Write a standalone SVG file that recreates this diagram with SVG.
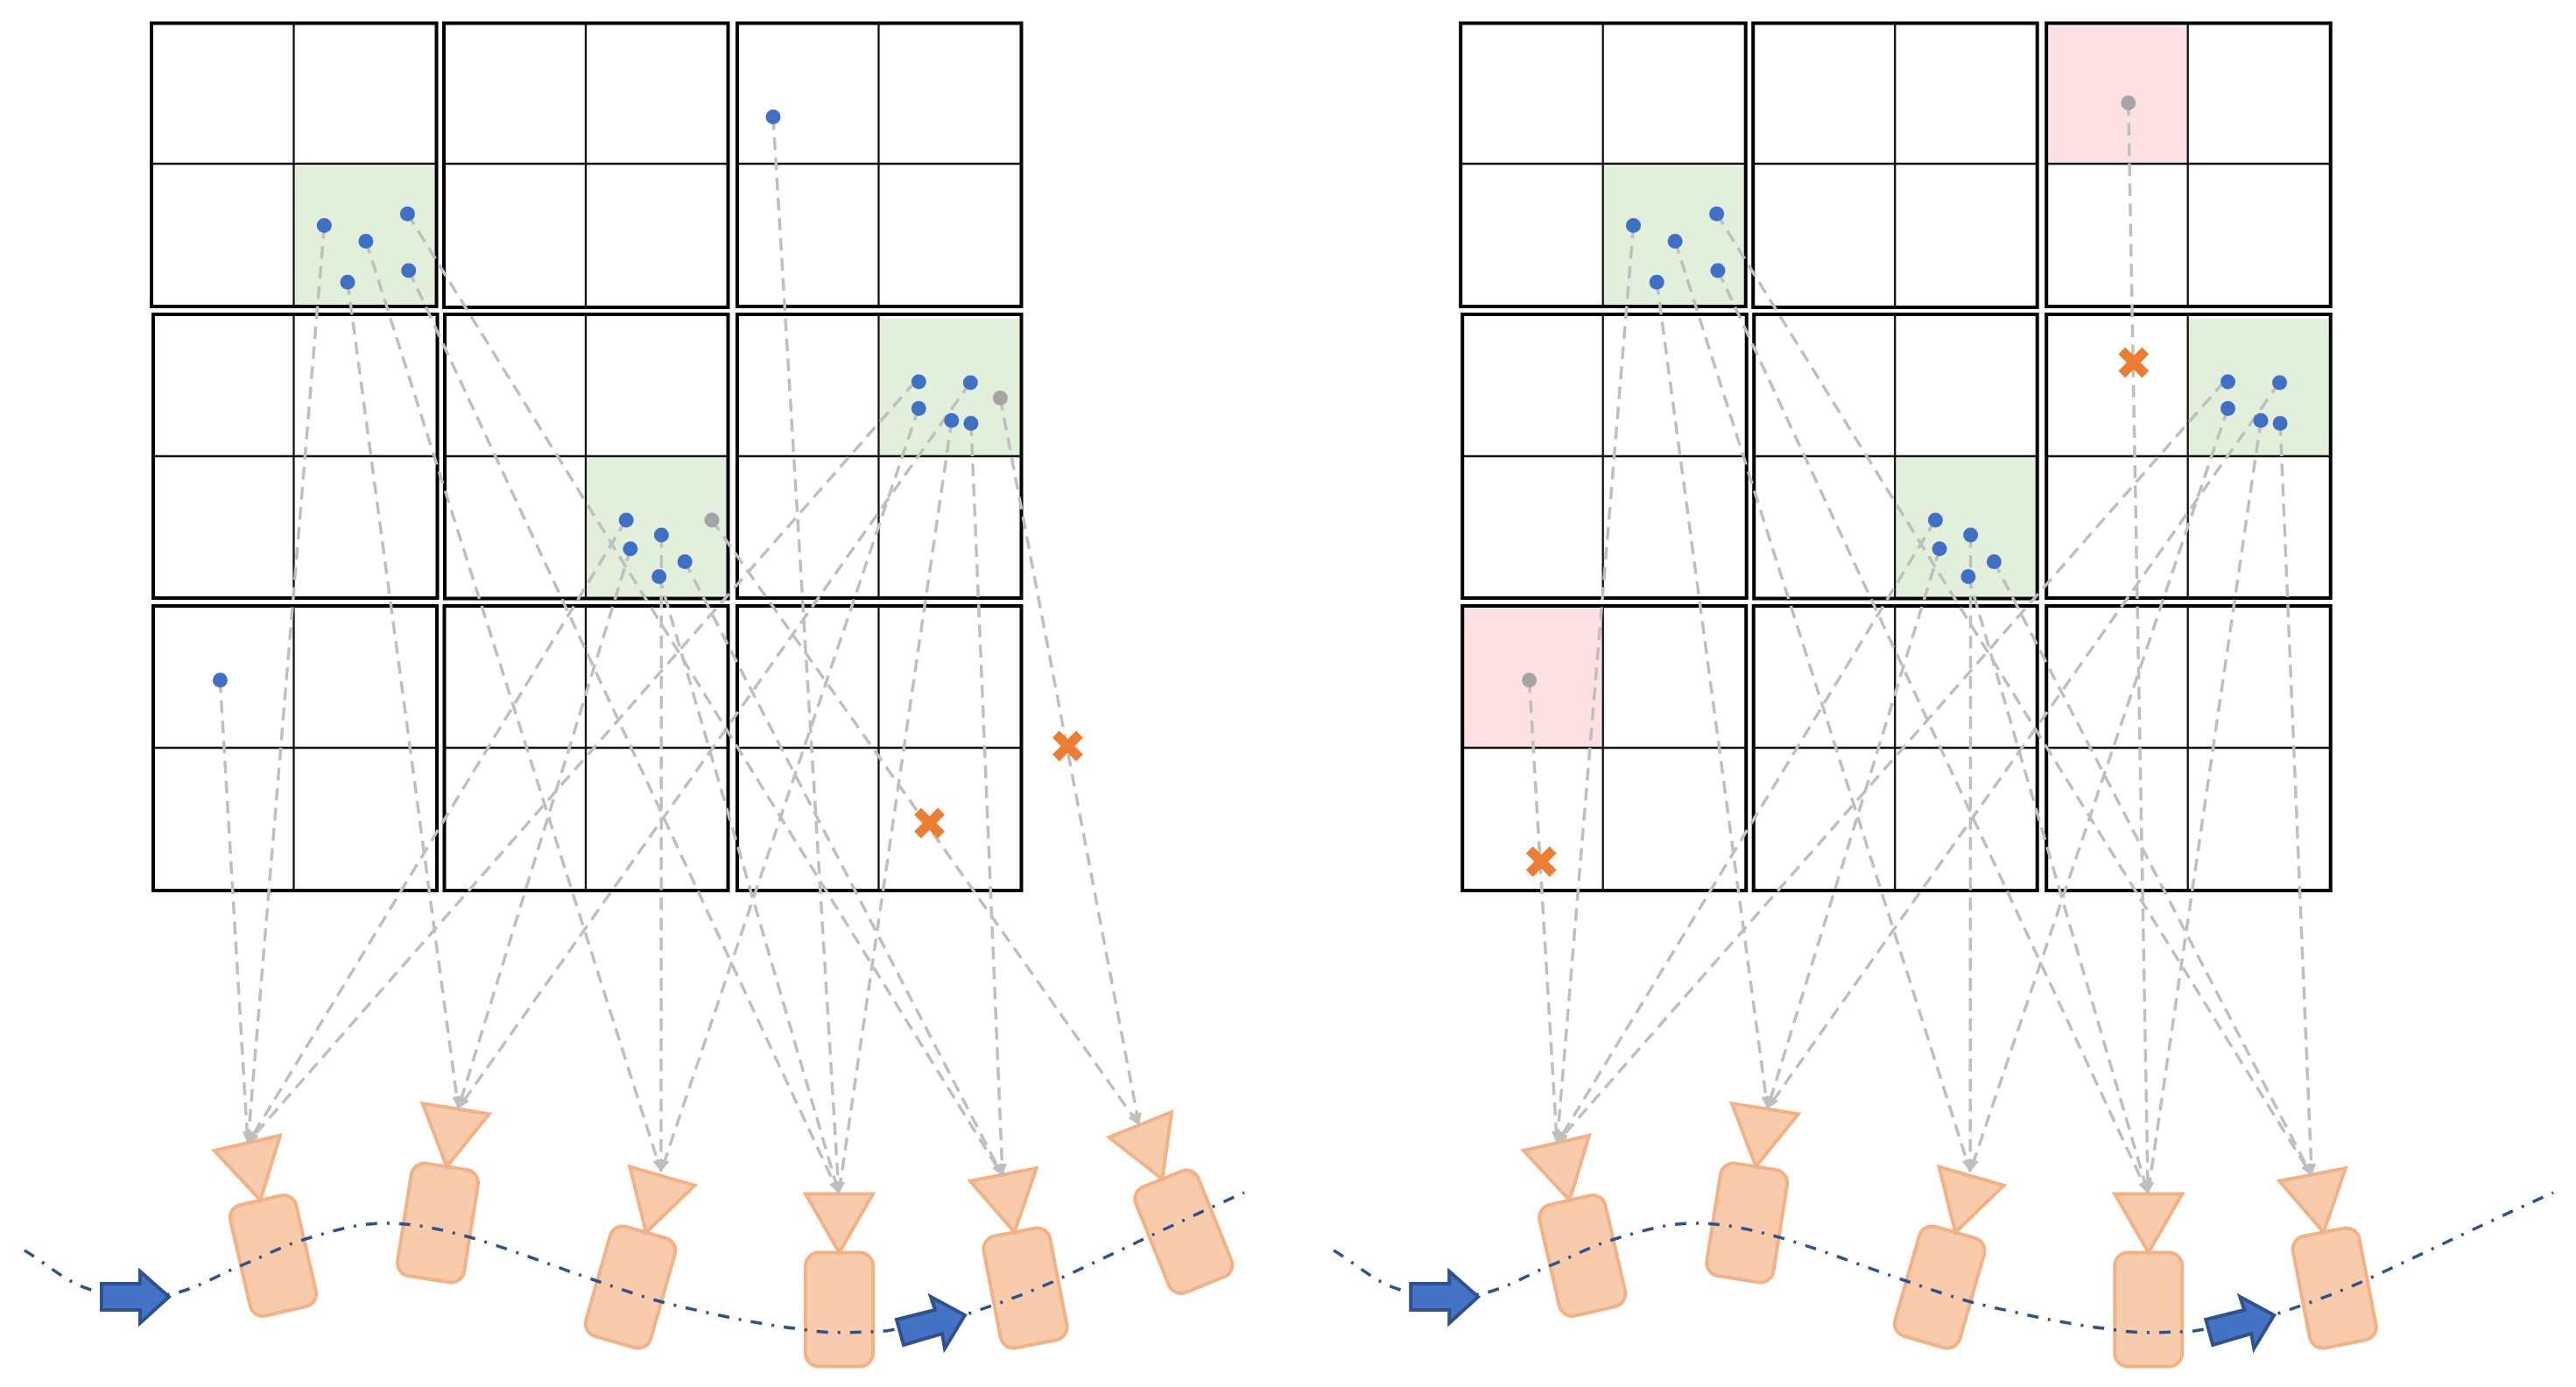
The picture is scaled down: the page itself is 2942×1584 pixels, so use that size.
<svg xmlns="http://www.w3.org/2000/svg" width="2942" height="1584" viewBox="0 0 2942 1584">
<style>
.o{fill:none;stroke:#000;stroke-width:4}
.i{fill:none;stroke:#111;stroke-width:2.300}
.g{fill:#e2efda}
.p{fill:#fce0e2}
.b{fill:#f8cbad;stroke:#f4b183;stroke-width:4}
.t{fill:#f8cbad;stroke:#f4b183;stroke-width:4;stroke-linejoin:miter}
.c{fill:none;stroke:#bfbfbf;stroke-width:3.500;stroke-dasharray:14.500 8.500;marker-end:url(#ah)}
.d{fill:#3f6fc6}
.y{fill:#a5a5a5}
.x{fill:none;stroke:#ed7d31;stroke-width:11}
.r{fill:none;stroke:#2f528f;stroke-width:3.500;stroke-dasharray:13 11 3 11}
.a{fill:#4472c4;stroke:#2f528f;stroke-width:4;stroke-linejoin:miter}
circle{r:8.500px}
</style>
<defs>
<marker id="ah" markerUnits="userSpaceOnUse" markerWidth="16" markerHeight="12" refX="14" refY="5.500" orient="auto"><path d="M0 0L14 5.500L0 11z" fill="#bfbfbf"/></marker>
<path id="ex" d="M-13.500 -13.500L13.500 13.500M13.500 -13.500L-13.500 13.500"/>
<path id="cv" d="M28 1428C53 1443 76 1465 104 1473C132 1481 165 1483 194 1478C223 1473 250 1455.500 276 1445C302 1434.500 322 1423 349 1415C376 1407 405 1397.500 436 1397C467 1396.500 492.500 1401 533 1412C573.500 1423 641 1449 679 1462C706 1471 733 1481 760 1488C800 1497.500 860 1512 916 1518C942 1523 967 1522 992 1521C1002 1521 1013 1520 1023 1518C1050 1515 1078 1510 1104 1501C1140 1489 1176 1476 1211 1460C1282 1427 1351 1393 1421 1362"/>
<g id="cm"><rect class="b" x="-38.500" y="-65" width="77" height="130" rx="15"/><polygon class="t" points="-38.500,-132 38.500,-132 0,-65"/></g>
</defs>

<g id="left-panel">
<g id="grid-l">
<g id="l-r1c1"><rect class="g" x="337" y="190" width="159" height="158"/><rect class="o" x="173" y="26.500" width="325.500" height="323.500"/><path class="i" d="M335.500 26.500V350M173 187H498.500"/></g>
<g id="l-r1c2"><rect class="o" x="507" y="26.500" width="324.500" height="324.500"/><path class="i" d="M669 26.500V351M507 187H831.500"/></g>
<g id="l-r1c3"><rect class="o" x="842" y="26.500" width="324.500" height="323.500"/><path class="i" d="M1003.500 26.500V350M842 187H1166.500"/></g>
<g id="l-r2c1"><rect class="o" x="175" y="359" width="324.500" height="324"/><path class="i" d="M335.500 359V683M175 521H499.500"/></g>
<g id="l-r2c2"><rect class="g" x="671" y="523" width="159" height="158"/><rect class="o" x="508" y="359" width="323.500" height="324.500"/><path class="i" d="M669 359V683M508 521H831.500"/></g>
<g id="l-r2c3"><rect class="g" x="1005" y="364" width="159" height="156"/><rect class="o" x="842" y="359" width="324.500" height="324"/><path class="i" d="M1003.500 359V683M842 521H1166.500"/></g>
<g id="l-r3c1"><rect class="o" x="175" y="692" width="324" height="325"/><path class="i" d="M335.500 692V1017M175 854H499"/></g>
<g id="l-r3c2"><rect class="o" x="507.500" y="692" width="324" height="325"/><path class="i" d="M669 692V1017M507.500 854H831.500"/></g>
<g id="l-r3c3"><rect class="o" x="842" y="692" width="324.500" height="325"/><path class="i" d="M1003.500 692V1017M842 854H1166.500"/></g>
</g>
<g id="l-cam1" transform="translate(312 1434) rotate(-13)"><use href="#cm"/></g>
<g id="l-cam2" transform="translate(500 1396.500) rotate(9)"><use href="#cm"/></g>
<g id="l-cam3" transform="translate(720 1470) rotate(16)"><use href="#cm"/></g>
<g id="l-cam4" transform="translate(958.500 1495.500)"><use href="#cm"/></g>
<g id="l-cam5" transform="translate(1171 1471) rotate(-11)"><use href="#cm"/></g>
<g id="l-cam6" transform="translate(1351.800 1406.800) rotate(-22)"><use href="#cm"/></g>
<g id="l-trajectory"><use href="#cv" class="r"/></g>
<g id="l-arrow1"><polygon class="a" points="116,1466 160,1466 160,1452 193,1481 160,1511 160,1496 116,1496"/></g>
<g id="l-arrow2"><polygon class="a" points="1024,1507 1068,1496 1063,1481 1102,1502 1079,1540 1076,1523 1032,1536"/></g>
<g id="l-connectors">
<line class="c" x1="251.400" y1="777" x2="283" y2="1306"/>
<line class="c" x1="370.300" y1="258" x2="283" y2="1306"/>
<line class="c" x1="715" y1="594" x2="283" y2="1306"/>
<line class="c" x1="1045" y1="436" x2="282" y2="1306"/>
<line class="c" x1="397" y1="322" x2="523.500" y2="1266"/>
<line class="c" x1="720" y1="627" x2="523.500" y2="1266"/>
<line class="c" x1="1108" y1="437" x2="523.500" y2="1266"/>
<line class="c" x1="418" y1="275.500" x2="755" y2="1338"/>
<line class="c" x1="755.400" y1="611" x2="755" y2="1338"/>
<line class="c" x1="1049" y1="466.500" x2="755" y2="1338"/>
<line class="c" x1="467" y1="309" x2="958" y2="1363"/>
<line class="c" x1="752.700" y1="658" x2="958" y2="1363"/>
<line class="c" x1="883" y1="134" x2="958" y2="1363"/>
<line class="c" x1="1087" y1="480" x2="958" y2="1363"/>
<line class="c" x1="465.400" y1="244" x2="1145" y2="1343"/>
<line class="c" x1="782" y1="641" x2="1145" y2="1343"/>
<line class="c" x1="1109" y1="483.500" x2="1145" y2="1343"/>
<line class="c" x1="813" y1="594" x2="1301" y2="1285"/>
<line class="c" x1="1142.400" y1="454.500" x2="1301" y2="1285"/>
</g>
<g id="l-points">
<circle class="d" cx="370.300" cy="257.600" r="8.500"/><circle class="d" cx="417.900" cy="275.500" r="8.500"/><circle class="d" cx="465.400" cy="244.300" r="8.500"/><circle class="d" cx="466.700" cy="309" r="8.500"/><circle class="d" cx="397" cy="322.300" r="8.500"/>
<circle class="d" cx="883" cy="133.600" r="8.500"/>
<circle class="d" cx="1049.300" cy="436" r="8.500"/><circle class="d" cx="1108.300" cy="437" r="8.500"/><circle class="y" cx="1142.400" cy="454.500" r="8.500"/><circle class="d" cx="1049.300" cy="466.500" r="8.500"/><circle class="d" cx="1086.800" cy="480.300" r="8.500"/><circle class="d" cx="1108.900" cy="483.500" r="8.500"/>
<circle class="d" cx="715.200" cy="594" r="8.500"/><circle class="d" cx="755.400" cy="611" r="8.500"/><circle class="y" cx="813" cy="594" r="8.500"/><circle class="d" cx="719.900" cy="626.700" r="8.500"/><circle class="d" cx="782.200" cy="641.400" r="8.500"/><circle class="d" cx="752.700" cy="658.400" r="8.500"/>
<circle class="d" cx="251.400" cy="776.700" r="8.500"/>
</g>
<g id="l-x1" transform="translate(1061.500 940)"><use href="#ex" class="x"/></g>
<g id="l-x2" transform="translate(1219.400 852)"><use href="#ex" class="x"/></g>
</g>

<g id="right-panel" transform="translate(1495.200 0)">
<g id="grid-r">
<g id="r-r1c1"><rect class="g" x="337" y="190" width="159" height="158"/><rect class="o" x="173" y="26.500" width="325.500" height="323.500"/><path class="i" d="M335.500 26.500V350M173 187H498.500"/></g>
<g id="r-r1c2"><rect class="o" x="507" y="26.500" width="324.500" height="324.500"/><path class="i" d="M669 26.500V351M507 187H831.500"/></g>
<g id="r-r1c3"><rect class="p" x="845" y="30" width="158" height="155.500"/><rect class="o" x="842" y="26.500" width="324.500" height="323.500"/><path class="i" d="M1003.500 26.500V350M842 187H1166.500"/></g>
<g id="r-r2c1"><rect class="o" x="175" y="359" width="324.500" height="324"/><path class="i" d="M335.500 359V683M175 521H499.500"/></g>
<g id="r-r2c2"><rect class="g" x="671" y="523" width="159" height="158"/><rect class="o" x="508" y="359" width="323.500" height="324.500"/><path class="i" d="M669 359V683M508 521H831.500"/></g>
<g id="r-r2c3"><rect class="g" x="1005" y="364" width="159" height="156"/><rect class="o" x="842" y="359" width="324.500" height="324"/><path class="i" d="M1003.500 359V683M842 521H1166.500"/></g>
<g id="r-r3c1"><rect class="p" x="176" y="695.500" width="158" height="157.500"/><rect class="o" x="175" y="692" width="324" height="325"/><path class="i" d="M335.500 692V1017M175 854H499"/></g>
<g id="r-r3c2"><rect class="o" x="507.500" y="692" width="324" height="325"/><path class="i" d="M669 692V1017M507.500 854H831.500"/></g>
<g id="r-r3c3"><rect class="o" x="842" y="692" width="324.500" height="325"/><path class="i" d="M1003.500 692V1017M842 854H1166.500"/></g>
</g>
<g id="r-cam1" transform="translate(312 1434) rotate(-13)"><use href="#cm"/></g>
<g id="r-cam2" transform="translate(500 1396.500) rotate(9)"><use href="#cm"/></g>
<g id="r-cam3" transform="translate(720 1470) rotate(16)"><use href="#cm"/></g>
<g id="r-cam4" transform="translate(958.500 1495.500)"><use href="#cm"/></g>
<g id="r-cam5" transform="translate(1171 1471) rotate(-11)"><use href="#cm"/></g>
<g id="r-trajectory"><use href="#cv" class="r"/></g>
<g id="r-arrow1"><polygon class="a" points="116,1466 160,1466 160,1452 193,1481 160,1511 160,1496 116,1496"/></g>
<g id="r-arrow2"><polygon class="a" points="1024,1507 1068,1496 1063,1481 1102,1502 1079,1540 1076,1523 1032,1536"/></g>
<g id="r-connectors">
<line class="c" x1="251.400" y1="777" x2="283" y2="1306"/>
<line class="c" x1="370.300" y1="258" x2="283" y2="1306"/>
<line class="c" x1="715" y1="594" x2="283" y2="1306"/>
<line class="c" x1="1045" y1="436" x2="282" y2="1306"/>
<line class="c" x1="397" y1="322" x2="523.500" y2="1266"/>
<line class="c" x1="720" y1="627" x2="523.500" y2="1266"/>
<line class="c" x1="1108" y1="437" x2="523.500" y2="1266"/>
<line class="c" x1="418" y1="275.500" x2="755" y2="1338"/>
<line class="c" x1="755.400" y1="611" x2="755" y2="1338"/>
<line class="c" x1="1049" y1="466.500" x2="755" y2="1338"/>
<line class="c" x1="467" y1="309" x2="958" y2="1363"/>
<line class="c" x1="752.700" y1="658" x2="958" y2="1363"/>
<line class="c" x1="935.600" y1="117.500" x2="958" y2="1363"/>
<line class="c" x1="1087" y1="480" x2="958" y2="1363"/>
<line class="c" x1="465.400" y1="244" x2="1145" y2="1343"/>
<line class="c" x1="782" y1="641" x2="1145" y2="1343"/>
<line class="c" x1="1109" y1="483.500" x2="1145" y2="1343"/>
</g>
<g id="r-points">
<circle class="d" cx="370.300" cy="257.600" r="8.500"/><circle class="d" cx="417.900" cy="275.500" r="8.500"/><circle class="d" cx="465.400" cy="244.300" r="8.500"/><circle class="d" cx="466.700" cy="309" r="8.500"/><circle class="d" cx="397" cy="322.300" r="8.500"/>
<circle class="y" cx="935.600" cy="117.500" r="8.500"/>
<circle class="d" cx="1049.300" cy="436" r="8.500"/><circle class="d" cx="1108.300" cy="437" r="8.500"/><circle class="d" cx="1049.300" cy="466.500" r="8.500"/><circle class="d" cx="1086.800" cy="480.300" r="8.500"/><circle class="d" cx="1108.900" cy="483.500" r="8.500"/>
<circle class="d" cx="715.200" cy="594" r="8.500"/><circle class="d" cx="755.400" cy="611" r="8.500"/><circle class="d" cx="719.900" cy="626.700" r="8.500"/><circle class="d" cx="782.200" cy="641.400" r="8.500"/><circle class="d" cx="752.700" cy="658.400" r="8.500"/>
<circle class="y" cx="251.400" cy="776.700" r="8.500"/>
</g>
<g id="r-x1" transform="translate(941.600 414)"><use href="#ex" class="x"/></g>
<g id="r-x2" transform="translate(265 984)"><use href="#ex" class="x"/></g>
</g>
</svg>
